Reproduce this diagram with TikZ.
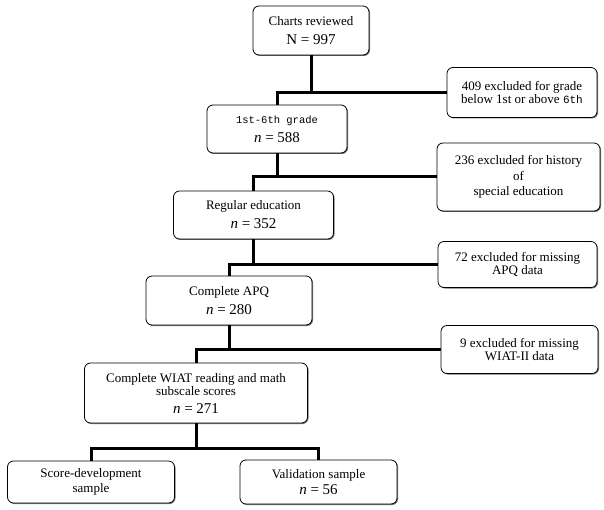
\documentclass[tikz,border=0pt]{standalone}
\usepackage{fontspec}
\setmainfont{Liberation Serif}
\newfontfamily\monof{Liberation Mono}
\usetikzlibrary{shadows}
\newcommand{\cnline}[1]{{\fontsize{15}{19}\selectfont #1}}
\begin{document}
\begin{tikzpicture}[x=1pt,y=-1pt,
  box/.style={draw, rounded corners=6pt, fill=white, line width=0.8pt, align=center,
    inner sep=0pt, font=\fontsize{13}{19}\selectfont,
    drop shadow={shadow xshift=1pt, shadow yshift=-1pt, fill=black!55, opacity=1}},
  exbox/.style={box, font=\fontsize{13}{13}\selectfont},
  con/.style={line width=3pt, line join=miter}]
\useasboundingbox (0,0) rectangle (604,510);
% main boxes
\node[box, minimum width=116pt, minimum height=49pt] (b1) at (311,30.5)
  {Charts reviewed\\\cnline{N = 997}};
\node[box, minimum width=140pt, minimum height=48pt] (b2) at (277,129)
  {{\monof\fontsize{10.5}{19}\selectfont 1st-6th grade}\\\cnline{\textit{n} = 588}};
\node[box, minimum width=160pt, minimum height=48pt] (b3) at (253.5,215)
  {Regular education\\\cnline{\textit{n} = 352}};
\node[box, minimum width=166pt, minimum height=49pt] (b4) at (229,300.5)
  {Complete APQ\\\cnline{\textit{n} = 280}};
\node[box, minimum width=223pt, minimum height=60pt, font=\fontsize{13}{13}\selectfont] (b5) at (196,393)
  {Complete WIAT reading and math\\subscale scores\\[5pt]\cnline{\textit{n} = 271}};
\node[box, minimum width=167pt, minimum height=42pt, font=\fontsize{13}{15}\selectfont] (c1) at (91,482)
  {Score-development\\sample};
\node[box, minimum width=157pt, minimum height=44pt, font=\fontsize{13}{16}\selectfont] (c2) at (318.5,482)
  {Validation sample\\\cnline{\textit{n} = 56}};
% exclusion boxes
\node[exbox, minimum width=150pt, minimum height=50pt] (e1) at (522,92.5)
  {409 excluded for grade\\below 1st or above {\monof\fontsize{11}{13}\selectfont 6th}};
\node[exbox, minimum width=163pt, minimum height=68pt, font=\fontsize{13}{15.5}\selectfont] (e2) at (518.5,177)
  {236 excluded for history\\of\\special education};
\node[exbox, minimum width=159pt, minimum height=46pt] (e3) at (517.5,264.5)
  {72 excluded for missing\\APQ data};
\node[exbox, minimum width=157pt, minimum height=48pt] (e4) at (519.5,349.5)
  {9 excluded for missing\\WIAT-II data};
% connectors
\draw[con] (b1.south) -- (b1.south |- e1.west);
\draw[con] (b2.north) -- (b2.north |- e1.west) -- (e1.west);
\draw[con] (b2.south) -- (b2.south |- e2.west);
\draw[con] (b3.north) -- (b3.north |- e2.west) -- (e2.west);
\draw[con] (b3.south) -- (b3.south |- e3.west);
\draw[con] (b4.north) -- (b4.north |- e3.west) -- (e3.west);
\draw[con] (b4.south) -- (b4.south |- e4.west);
\draw[con] (b5.north) -- (b5.north |- e4.west) -- (e4.west);
\coordinate (j5) at (196,448);
\draw[con] (b5.south) -- (j5);
\draw[con] (c1.north) -- (c1.north |- j5) -- (c2.north |- j5) -- (c2.north);
\end{tikzpicture}
\end{document}
